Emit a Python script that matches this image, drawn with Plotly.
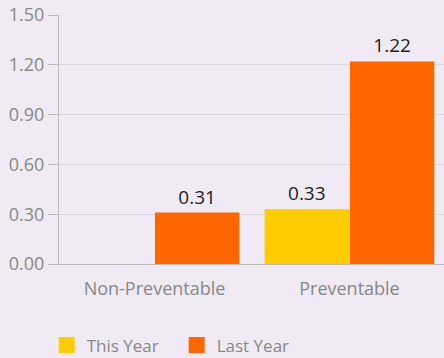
import plotly.graph_objects as go

categories = ["Non-Preventable", "Preventable"]
this_year = [0.0, 0.33]
last_year = [0.31, 1.22]
y_ticks = [0.0, 0.3, 0.6, 0.9, 1.2, 1.5]

series = [("This Year", this_year, "#FFCC00"), ("Last Year", last_year, "#FF6600")]

FONT = "Open Sans, sans-serif"

fig = go.Figure()
for name, vals, color in series:
    labels = [f"{v:.2f}" if v else "" for v in vals]
    fig.add_trace(go.Bar(
        x=categories, y=vals, name=name, marker=dict(color=color, line=dict(width=0)),
        text=labels, textposition="outside", cliponaxis=False,
        textfont=dict(color="#222222", size=19, family=FONT), showlegend=False,
    ))
    # legend entry drawn as a square swatch
    fig.add_trace(go.Scatter(
        x=[None], y=[None], mode="markers", name=name,
        marker=dict(symbol="square", size=16, color=color),
    ))

fig.update_layout(
    width=444, height=358,
    margin=dict(l=59, r=0, t=15, b=94, autoexpand=False),
    paper_bgcolor="#EFEAF4", plot_bgcolor="#EFEAF4",
    font=dict(family=FONT, size=18, color="#888888"),
    barmode="group", bargap=0.125, bargroupgap=0.01,
    legend=dict(orientation="h", x=-0.032, xanchor="left", y=-0.255, yanchor="top",
                font=dict(size=17, color="#888888", family=FONT), itemwidth=30,
                entrywidth=85, traceorder="normal"),
)
fig.update_yaxes(
    range=[0, 1.5], tickvals=y_ticks, tickformat=".2f",
    showgrid=True, gridcolor="#DAD6DE", gridwidth=1,
    showline=True, linecolor="#BBBBBB", linewidth=1,
    ticks="outside", ticklen=10, tickcolor="#BBBBBB",
    zeroline=False, automargin=False, tickfont=dict(size=18, color="#888888"),
)
fig.update_xaxes(
    range=[-0.49, 1.485],
    showline=True, linecolor="#BBBBBB", linewidth=1, automargin=False,
    ticks="", ticklabelstandoff=8, tickfont=dict(size=18, color="#888888"),
)

fig.write_html("out.html")
